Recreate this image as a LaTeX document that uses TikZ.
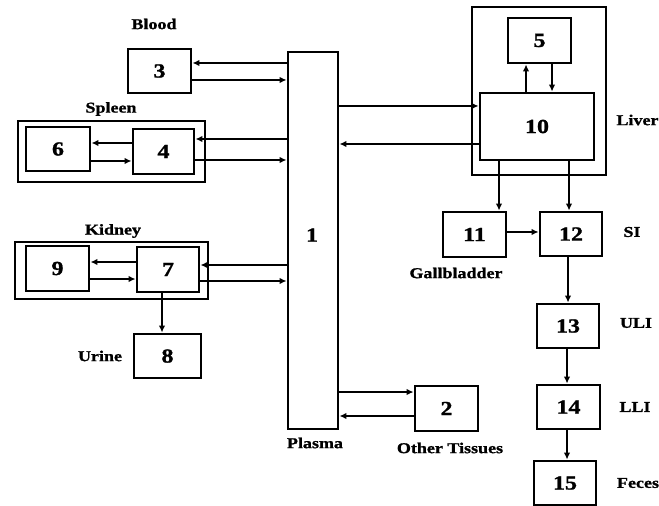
\documentclass[tikz,border=0pt]{standalone}
\usepackage{fontspec}
\setmainfont{Liberation Serif}[FakeStretch=1.2,BoldFeatures={FakeBold=1.2}]
\usetikzlibrary{arrows.meta}
\begin{document}
\begin{tikzpicture}[x=1bp,y=-1bp,
  box/.style={draw,line width=2.8bp,inner sep=0pt,font=\bfseries\fontsize{20bp}{22bp}\selectfont},
  boxtext/.style={inner sep=0pt,font=\bfseries\fontsize{20bp}{22bp}\selectfont},
  group/.style={draw,line width=1.7bp,inner sep=0pt},
  lab/.style={inner sep=0pt,font=\bfseries\fontsize{15bp}{17bp}\selectfont},
  arr/.style={line width=2.5bp,-{Latex[length=7bp,width=6.5bp]}}]
\useasboundingbox (0,0) rectangle (659,506);
% containers
\node[group,minimum width=187bp,minimum height=61bp] (spleen) at (111.5,151.5) {};
\node[group,minimum width=193bp,minimum height=57bp] (kidney) at (111.5,270.5) {};
\node[group,minimum width=134bp,minimum height=168bp] (liver) at (539,91) {};
% boxes
\node[box,minimum width=50bp,minimum height=377bp] (b1) at (313,240.5) {};
\node[boxtext] (n1) at (312,235) {1};
\node[box,minimum width=63bp,minimum height=45bp] (b2) at (446.5,408.5) {2};
\node[box,minimum width=63bp,minimum height=44bp] (b3) at (159.5,71) {3};
\node[box,minimum width=61bp,minimum height=45bp] (b4) at (163.5,151.5) {4};
\node[box,minimum width=63bp,minimum height=45bp] (b5) at (539.5,40.5) {5};
\node[box,minimum width=64bp,minimum height=44bp] (b6) at (58,149) {6};
\node[box,minimum width=62bp,minimum height=45bp] (b7) at (168,269.5) {7};
\node[box,minimum width=67bp,minimum height=44bp] (b8) at (167.5,356) {8};
\node[box,minimum width=63bp,minimum height=45bp] (b9) at (57.5,268.5) {9};
\node[box,minimum width=114bp,minimum height=67bp] (b10) at (537,126.5) {10};
\node[box,minimum width=63bp,minimum height=45bp] (b11) at (474.5,234.5) {11};
\node[box,minimum width=62bp,minimum height=44bp] (b12) at (571,234) {12};
\node[box,minimum width=62bp,minimum height=44bp] (b13) at (568,326) {13};
\node[box,minimum width=63bp,minimum height=44bp] (b14) at (568.5,407) {14};
\node[box,minimum width=62bp,minimum height=44bp] (b15) at (565,483) {15};
% labels
\node[lab] (lblood) at (154,24) {Blood};
\node[lab] (lspleen) at (111,109) {Spleen};
\node[lab] (lkidney) at (113,231) {Kidney};
\node[lab] (lurine) at (100,356) {Urine};
\node[lab] (lplasma) at (315,443) {Plasma};
\node[lab] (lother) at (450,448) {Other Tissues};
\node[lab] (lgall) at (456,273) {Gallbladder};
\node[lab] (lliver) at (637.5,120) {Liver};
\node[lab] (lsi) at (632,232) {SI};
\node[lab] (luli) at (636,323) {ULI};
\node[lab] (llli) at (635,407) {LLI};
\node[lab] (lfeces) at (638,483) {Feces};
% connectors
\draw[arr] (b1.west |- 0,63) -- (b3.east |- 0,63);
\draw[arr] (b3.east |- 0,80) -- (b1.west |- 0,80);
\draw[arr] (b1.west |- 0,139) -- (b4.east |- 0,139);
\draw[arr] (b4.east |- 0,160) -- (b1.west |- 0,160);
\draw[arr] (b4.west |- 0,143) -- (b6.east |- 0,143);
\draw[arr] (b6.east |- 0,161) -- (b4.west |- 0,161);
\draw[arr] (b1.west |- 0,265) -- (b7.east |- 0,265);
\draw[arr] (b7.east |- 0,281) -- (b1.west |- 0,281);
\draw[arr] (b7.west |- 0,262) -- (b9.east |- 0,262);
\draw[arr] (b9.east |- 0,279) -- (b7.west |- 0,279);
\draw[arr] (b7.south -| 162,0) -- (b8.north -| 162,0);
\draw[arr] (b1.east |- 0,106) -- (b10.west |- 0,106);
\draw[arr] (b10.west |- 0,144) -- (b1.east |- 0,144);
\draw[arr] (b10.north -| 526,0) -- (b5.south -| 526,0);
\draw[arr] (b5.south -| 552,0) -- (b10.north -| 552,0);
\draw[arr] (b10.south -| 499,0) -- (b11.north -| 499,0);
\draw[arr] (b10.south -| 569,0) -- (b12.north -| 569,0);
\draw[arr] (b11.east |- 0,232) -- (b12.west |- 0,232);
\draw[arr] (b12.south -| 568,0) -- (b13.north -| 568,0);
\draw[arr] (b13.south -| 567,0) -- (b14.north -| 567,0);
\draw[arr] (b14.south -| 567,0) -- (b15.north -| 567,0);
\draw[arr] (b1.east |- 0,392) -- (b2.west |- 0,392);
\draw[arr] (b2.west |- 0,416) -- (b1.east |- 0,416);
\end{tikzpicture}
\end{document}
